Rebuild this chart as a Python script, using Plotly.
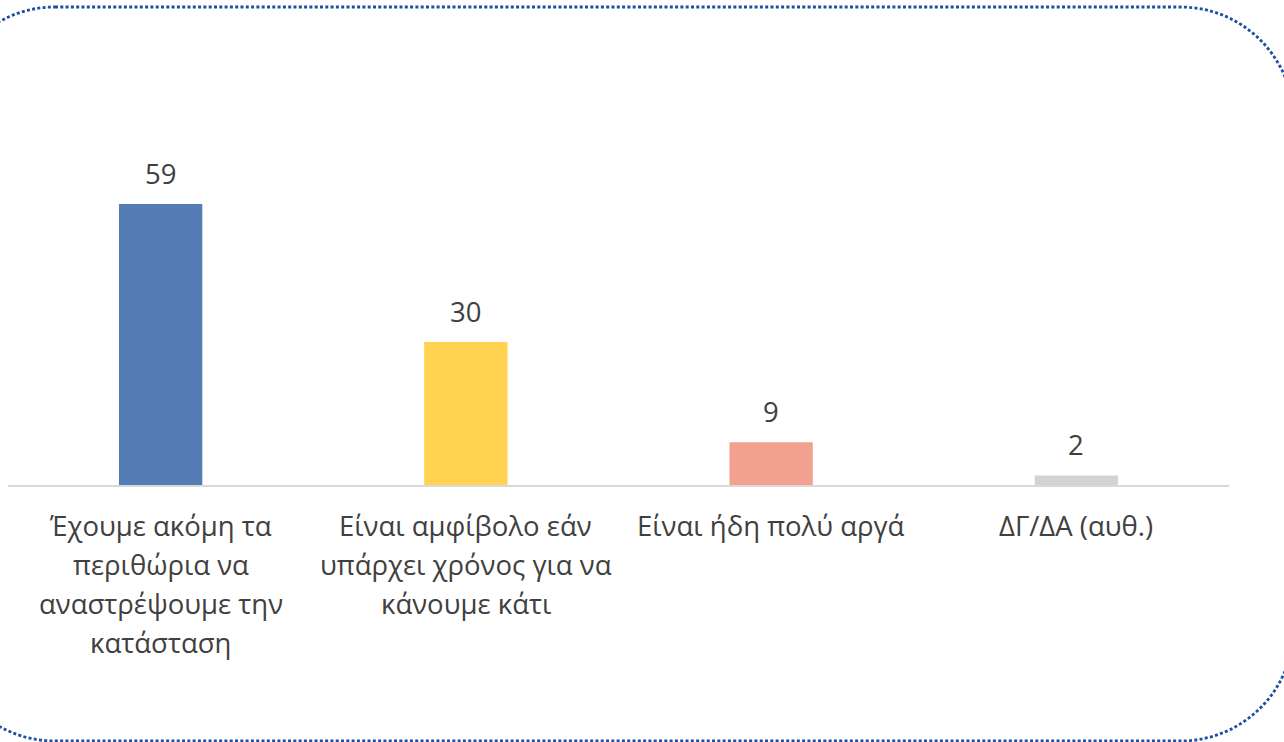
import plotly.graph_objects as go

categories = ["Έχουμε ακόμη τα περιθώρια να αναστρέψουμε την κατάσταση",
              "Είναι αμφίβολο εάν υπάρχει χρόνος για να κάνουμε κάτι",
              "Είναι ήδη πολύ αργά",
              "ΔΓ/ΔΑ (αυθ.)"]
label_lines = [["Έχουμε ακόμη τα", "περιθώρια να", "αναστρέψουμε την", "κατάσταση"],
               ["Είναι αμφίβολο εάν", "υπάρχει χρόνος για να", "κάνουμε κάτι"],
               ["Είναι ήδη πολύ αργά"],
               ["ΔΓ/ΔΑ (αυθ.)"]]
values = [59, 30, 9, 2]
colors = ["#557DB5", "#FFD34F", "#F2A090", "#D3D3D3"]

W, H = 1284, 742
FONT = "Open Sans"
TXT = "#404040"
FS = 27.5

fig = go.Figure()
fig.add_trace(go.Bar(x=categories, y=values, marker=dict(color=colors, line=dict(width=0)),
                     hoverinfo="skip"))

annotations = []
for cat, v in zip(categories, values):
    annotations.append(dict(x=cat, y=v, xref="x", yref="y", text=str(v), showarrow=False,
                            yanchor="middle", yshift=31,
                            font=dict(family=FONT, size=FS, color=TXT)))
for cat, lines in zip(categories, label_lines):
    for i, ln in enumerate(lines):
        annotations.append(dict(x=cat, y=0, xref="x", yref="y", text=ln, showarrow=False,
                                yanchor="middle", yshift=-(40 + 39 * i),
                                font=dict(family=FONT, size=FS, color=TXT)))

# rounded dotted border (pixel geometry -> paper coords)
def px(x): return x / W
def py(y): return 1 - y / H
r = 113.0
xl, xr, yt, yb = -58.0, 1293.5, 7.0, 741.0
k = 0.5523 * r
pts = [
    ("M", [(xl + r, yt)]),
    ("L", [(xr - r, yt)]),
    ("C", [(xr - r + k, yt), (xr, yt + r - k), (xr, yt + r)]),
    ("L", [(xr, yb - r)]),
    ("C", [(xr, yb - r + k), (xr - r + k, yb), (xr - r, yb)]),
    ("L", [(xl + r, yb)]),
    ("C", [(xl + r - k, yb), (xl, yb - r + k), (xl, yb - r)]),
    ("L", [(xl, yt + r)]),
    ("C", [(xl, yt + r - k), (xl + r - k, yt), (xl + r, yt)]),
]
path = ""
for cmd, ps in pts:
    path += cmd + " " + " ".join(f"{px(a):.5f},{py(b):.5f}" for a, b in ps) + " "
path += "Z"

fig.update_layout(
    width=W, height=H,
    margin=dict(l=0, r=0, t=0, b=0),
    paper_bgcolor="white", plot_bgcolor="white",
    showlegend=False,
    bargap=0.727,
    annotations=annotations,
    shapes=[dict(type="path", path=path, xref="paper", yref="paper",
                 line=dict(color="#1F4FA0", width=2.8, dash="3px,2.3px"),
                 fillcolor="rgba(0,0,0,0)", layer="above")],
    xaxis=dict(domain=[8 / W, 1229 / W], showticklabels=False, ticks="",
               showline=True, linecolor="#D9D9D9", linewidth=1.5, showgrid=False,
               zeroline=False, fixedrange=True),
    yaxis=dict(domain=[py(485), py(485 - 70 * 281 / 59)], range=[0, 70], visible=False,
               showgrid=False, zeroline=False, fixedrange=True),
)

fig.write_html("out.html", config={"displayModeBar": False, "staticPlot": True},
               post_script="document.body.style.margin='0';document.body.style.overflow='hidden';")
